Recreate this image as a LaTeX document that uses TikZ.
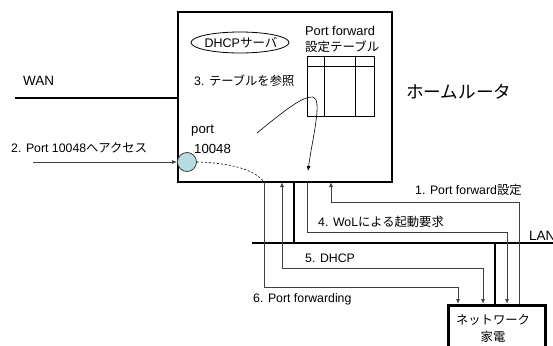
\documentclass[tikz,border=0pt]{standalone}
\usepackage{fontspec}
\setmainfont{Liberation Sans}
\newfontfamily\jpfont{Noto Sans CJK JP}
\newcommand{\jp}[1]{{\jpfont #1}}
\usetikzlibrary{arrows.meta,calc,shapes.geometric}
\definecolor{portblue}{RGB}{182,222,226}
\begin{document}
\begin{tikzpicture}[x=1pt,y=-1pt,
  heavy/.style={line width=2.8pt},
  thinline/.style={line width=0.9pt, black!75},
  arr/.style={-{Latex[length=5pt,width=4pt]}},
  biarr/.style={{Latex[length=5pt,width=4pt]}-{Latex[length=5pt,width=4pt]}},
  lbl/.style={font=\fontsize{12.3}{14}\selectfont, inner sep=0pt, anchor=base west},
  biglbl/.style={font=\fontsize{13.5}{16}\selectfont, inner sep=0pt, anchor=base west}]
\useasboundingbox (0,0) rectangle (553,345);

% router
\node[draw, heavy, minimum width=214pt, minimum height=170pt, inner sep=0pt] (router) at (285,97) {};
\node[lbl, font=\fontsize{17.6}{20}\selectfont] (routername) at (406,98) {\jp{ホームルータ}};

% WAN
\coordinate (wanL) at (15,98);
\draw[heavy] (wanL) -- (wanL -| router.west);
\node[biglbl] (wan) at (23,85) {WAN};

% LAN
\coordinate (lanL) at (252,243);
\coordinate (lanR) at (560,243);
\draw[heavy] (lanL) -- (lanR);
\node[biglbl] (lan) at (529,240) {LAN};

% router to LAN
\coordinate (rl) at (294,182);
\draw[heavy] (rl) -- (rl |- lanL);

% appliance
\node[draw, heavy, minimum width=97pt, minimum height=70pt, inner sep=0pt, anchor=north west] (dev) at (447,304) {};
\node[lbl, anchor=base, font=\fontsize{12.3}{14}\selectfont] (devt1) at (493,324) {\jp{ネットワーク}};
\node[lbl, anchor=base, font=\fontsize{12.3}{14}\selectfont] (devt2) at (493,341) {\jp{家電}};
\coordinate (dl) at (495,304);
\draw[heavy] (dl) -- (dl |- lanL);

% DHCP server
\node[draw, ellipse, line width=0.8pt, minimum width=98pt, minimum height=21pt, inner sep=0pt] (dhcp) at (240,42.5) {};
\node[lbl, anchor=center, font=\fontsize{12.5}{14}\selectfont] (dhcpt) at (241,43) {DHCP\jp{サーバ}};

% table
\node[lbl, font=\fontsize{12.8}{14}\selectfont] (pft1) at (305,36) {Port forward};
\node[lbl, font=\fontsize{12.5}{14}\selectfont] (pft2) at (305,52) {\jp{設定テーブル}};
\node[draw, line width=0.8pt, minimum width=67pt, minimum height=60pt, inner sep=0pt] (tbl) at (340.5,86) {};
\draw[line width=0.8pt] ($(tbl.north west)+(0,11)$) -- ($(tbl.north east)+(0,11)$);
\draw[line width=0.8pt] ($(tbl.north west)+(18,0)$) -- ($(tbl.south west)+(18,0)$);
\draw[line width=0.8pt] ($(tbl.north west)+(49,0)$) -- ($(tbl.south west)+(49,0)$);

\node[lbl] (ref) at (194,85) {3. \jp{テーブルを参照}};

% port
\node[lbl, font=\fontsize{13.2}{15}\selectfont] (portt1) at (191,133) {port};
\node[lbl, font=\fontsize{13.2}{15}\selectfont] (portt2) at (194,153) {10048};
\node[circle, draw=black!75, fill=portblue, line width=0.8pt, minimum size=19pt, inner sep=0pt] (port) at (187,162) {};

% access
\coordinate (in2) at (33,162);
\draw[thinline, arr] (in2) -- (port.west);
\node[lbl] (acc) at (11,152) {2. Port 10048\jp{へアクセス}};

% lookup curve
\coordinate (lk0) at (257,133);
\coordinate (lk1) at (313,97);
\coordinate (lk2) at (308,171);
\draw[line width=0.6pt, arr] (lk0) .. controls (285,110) and (303,96) .. (lk1) .. controls (323,99) and (312,140) .. (lk2);

% connector end points at router bottom and device top
\coordinate (r6) at (264,182);
\coordinate (r5) at (282,182);
\coordinate (r4) at (307,182);
\coordinate (r1) at (331,182);
\coordinate (d6) at (458,304);
\coordinate (d5) at (483,304);
\coordinate (d4) at (507,304);
\coordinate (d1) at (519,304);

% dashed forwarding path
\draw[line width=0.6pt, dash pattern=on 2pt off 2pt] (port.east) .. controls (232,163) and (255,170) .. (r6);

% 6
\draw[thinline, arr] (r6) -- ++(0,105) -| (d6);
\node[lbl] (l6) at (253,302) {6. Port forwarding};
% 5
\draw[thinline, biarr] (r5) -- ++(0,86) -| (d5);
\node[lbl] (l5) at (305,262) {5. DHCP};
% 4
\draw[thinline, arr] (r4) -- ++(0,50) -| (d4);
\node[lbl] (l4) at (318,226) {4. WoL\jp{による起動要求}};
% 1
\draw[thinline, arr] (d1) -- ++(0,-102) -| (r1);
\node[lbl] (l1) at (415,194) {1. Port forward\jp{設定}};
\end{tikzpicture}
\end{document}
